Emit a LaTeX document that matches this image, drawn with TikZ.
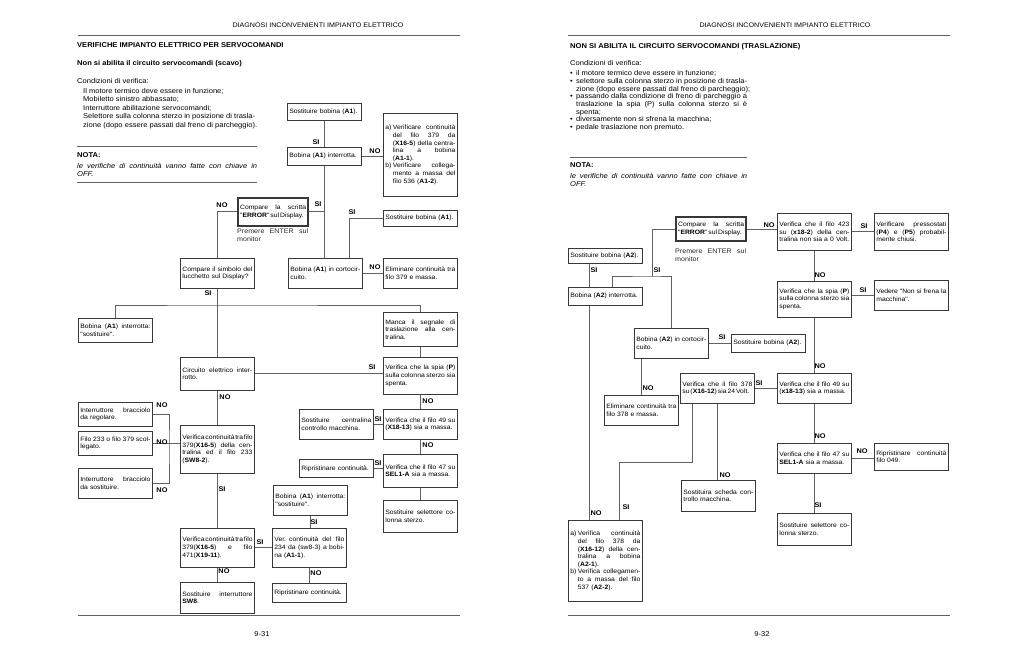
\documentclass[tikz,border=0pt]{standalone}
\usepackage{fontspec}
\setmainfont{Liberation Sans}[FakeStretch=1.08]
\newfontfamily\boxfam{Liberation Sans}[FakeStretch=1.08, WordSpace=0.5]
\definecolor{linegray}{gray}{0.38}
\definecolor{boxgray}{gray}{0.22}
\newcommand{\boxfont}{\boxfam\fontsize{6.3}{7.6}\selectfont}
\newcommand{\labfont}{\fontsize{6.8}{7}\selectfont\bfseries}
\newcommand{\txtfont}{\fontsize{7}{8.5}\selectfont}
\newcommand{\headfont}{\fontsize{7}{8}\selectfont\bfseries}
% justified line of given width, justified box lines, unbroken last line
\newcommand{\jbox}[2]{\makebox[#1][s]{\spaceskip=0.12em plus 1fil\relax #2}}
\newcommand{\jl}[1]{\jbox{\hsize}{#1}\\}
\newcommand{\ji}[1]{\hspace*{7.5pt}\jbox{\dimexpr\hsize-7.5pt\relax}{#1}\\}
\newcommand{\el}[1]{\makebox[\hsize][l]{\spaceskip=0.15em\relax #1}}
\tikzset{
	box/.style={draw=boxgray, line width=0.7pt, anchor=north west, inner xsep=2pt, inner ysep=1.5pt, text width=70pt, align=left, font=\boxfont},
	errbox/.style={box, line width=2.2pt, text width=66pt},
	lab/.style={font=\labfont, inner sep=0pt},
	link/.style={draw=linegray, line width=0.9pt},
	txt/.style={anchor=north west, inner sep=0pt, align=left, font=\txtfont},
	rule/.style={draw=linegray, line width=0.8pt},
}
\begin{document}
\begin{tikzpicture}[x=1pt, y=-1pt]
	% Page frame
	\useasboundingbox (0,0) rectangle (1024,661);
	\fill[white] (0,0) rectangle (1024,661);
	
	% Left page: heading and notes
	\node[inner sep=0pt, font=\fontsize{6.6}{8}\selectfont] (headL) at (318,25) {DIAGNOSI INCONVENIENTI IMPIANTO ELETTRICO};
	\draw[rule] (78,35) -- (460,35);
	\node[anchor=west, inner sep=0pt, font=\headfont] (titleL) at (77,45) {VERIFICHE IMPIANTO ELETTRICO PER SERVOCOMANDI};
	\node[anchor=west, inner sep=0pt, font=\headfont] (subL) at (77,64) {Non si abilita il circuito servocomandi (scavo)};
	\node[txt] (condL) at (77,78) {Condizioni di verifica:\\[1.5pt]
		\hspace*{6pt}Il motore termico deve essere in funzione;\\
		\hspace*{6pt}Mobiletto sinistro abbassato;\\
		\hspace*{6pt}Interruttore abilitazione servocomandi;\\
		\hspace*{6pt}\jbox{172pt}{Selettore sulla colonna sterzo in posizione di trasla-}\\
		\hspace*{6pt}zione (dopo essere passati dal freno di parcheggio).};
	\draw[rule] (77,146) -- (257,146);
	\node[anchor=west, inner sep=0pt, font=\headfont] (notaL) at (77,155) {NOTA:};
	\node[txt] (noteL) at (77,163) {\itshape\jbox{180pt}{le verifiche di continuità vanno fatte con chiave in}\\\itshape OFF.};
	\draw[rule] (77,182) -- (257,182);
	
	% Left page: boxes
	\node[box, minimum height=17pt] (sost1) at (287,103) {Sostituire bobina (\textbf{A1}).};
	\node[box, minimum height=18pt] (bint1) at (287,147) {Bobina (\textbf{A1}) interrotta.};
	\node[box, minimum height=83pt] (verA1) at (383,113) {\jl{a)\hspace{1.5pt}Verificare continuità}
		\ji{del filo 379 da}
		\ji{(\textbf{X16-5}) della centra-}
		\ji{lina a bobina}
		\hspace*{7.5pt}(\textbf{A1-1}).\\
		\jl{b)\hspace{1.5pt}Verificare collega-}
		\ji{mento a massa del}
		\hspace*{7.5pt}filo 536 (\textbf{A1-2}).};
	\node[errbox, minimum height=28pt] (err1) at (237,196.5) {\jl{Compare la scritta}\el{"\textbf{ERROR}" sul Display.}};
	\node[txt, font=\fontsize{6.6}{7.5}\selectfont, text=black!85] (enter1) at (237,229) {\jbox{71pt}{Premere ENTER sul}\\monitor};
	\node[box, minimum height=16pt] (sost2) at (383,210) {Sostituire bobina (\textbf{A1}).};
	\node[box, minimum height=30pt] (bcort1) at (288,258) {\jl{Bobina (\textbf{A1}) in cortocir-}cuito.};
	\node[box, minimum height=30pt] (elim1) at (383,258) {\jl{Eliminare continuità tra}filo 379 e massa.};
	\node[box, minimum height=30pt] (lucch) at (180,258) {\jl{Compare il simbolo del}lucchetto sul Display?};
	\node[box, minimum height=24pt] (bint2) at (78,318) {\jl{Bobina (\textbf{A1}) interrotta:}"sostituire".};
	\node[box, minimum height=34pt] (manca) at (383,312) {\jl{Manca il segnale di}\jl{traslazione alla cen-}tralina.};
	\node[box, minimum height=33pt] (circ) at (180,357) {\jl{Circuito elettrico inter-}rotto.};
	\node[box, minimum height=37pt] (spia) at (383,357) {\jl{Verifica che la spia (\textbf{P})}\jl{sulla colonna sterzo sia}spenta.};
	\node[box, minimum height=24pt] (breg) at (78,402) {\jl{Interruttore bracciolo}da regolare.};
	\node[box, minimum height=24pt] (filo) at (78,431) {\jl{Filo 233 o filo 379 scol-}legato.};
	\node[box, minimum height=30pt] (bsost) at (78,468) {\jl{Interruttore bracciolo}da sostituire.};
	\node[box, minimum height=48pt] (vcont) at (180,425) {\jl{Verifica continuità tra filo}\jl{379(\textbf{X16-5}) della cen-}\jl{tralina ed il filo 233}(\textbf{SW8-2}).};
	\node[box, minimum height=30pt] (sostc) at (299,409) {\jl{Sostituire centralina}controllo macchina.};
	\node[box, minimum height=30pt] (f49) at (383,409) {\jl{Verifica che il filo 49 su}(\textbf{X18-13}) sia a massa.};
	\node[box, minimum height=18pt] (ripr1) at (299,459) {Ripristinare continuità.};
	\node[box, minimum height=33pt] (f47) at (383,454) {\jl{Verifica che il filo 47 su}\textbf{SEL1-A} sia a massa.};
	\node[box, minimum height=32pt] (sostsel) at (383,500) {\jl{Sostituire selettore co-}lonna sterzo.};
	\node[box, minimum height=30pt] (bint3) at (273,485) {\jl{Bobina (\textbf{A1}) interrotta:}"sostituire".};
	\node[box, minimum height=39pt] (vcont2) at (180,528) {\jl{Verifica continuità tra filo}\jl{379(\textbf{X16-5}) e filo}471(\textbf{X19-11}).};
	\node[box, minimum height=39pt] (vcont3) at (272,528) {\jl{Ver. continuità del filo}\jl{234 da (sw8-3) a bobi-}na (\textbf{A1-1}).};
	\node[box, minimum height=31pt] (sostsw8) at (180,582) {\jl{Sostituire interruttore}\textbf{SW8}.};
	\node[box, minimum height=19pt] (ripr2) at (272,583) {Ripristinare continuità.};
	
	% Left page: connectors
	\draw[link] (sost1) -- (bint1);
	\draw[link] (bint1.east) -- (bint1.east -| verA1.west);
	\draw[link] (bint1.south) -- (bint1.south |- bcort1.north);
	\draw[link] (err1.east) -- (err1.east -| bint1.south);
	\draw[link] (sost2.west) -| ([xshift=24pt]bcort1.north);
	\draw[link] (bcort1.east) -- (bcort1.east -| elim1.west);
	\draw[link] (err1.west) -| (lucch.north);
	\coordinate (busL) at (217,305);
	\draw[link] (lucch) -- (circ);
	\draw[link] (bint2.north) |- (busL) -| (manca.north);
	\draw[link] (manca) -- (spia);
	\draw[link] (circ.east) -- (circ.east -| spia.west);
	\draw[link] (circ) -- (vcont);
	\coordinate (brk) at (169,445);
	\draw[link] (breg.east) -| (brk) |- (bsost.east);
	\draw[link] (filo.east) -- (filo.east -| vcont.west);
	\draw[link] (vcont) -- (vcont2);
	\draw[link] (vcont2) -- (vcont3);
	\draw[link] (bint3.south) -- (bint3.south |- vcont3.north);
	\draw[link] (vcont2) -- (sostsw8);
	\draw[link] (vcont3.south) -- (vcont3.south |- ripr2.north);
	\draw[link] (spia) -- (f49);
	\draw[link] (f49) -- (sostc);
	\draw[link] (f49) -- (f47);
	\draw[link] (ripr1.east) -- (ripr1.east -| f47.west);
	\draw[link] (f47) -- (sostsel);
	
	% Left page: labels
	\node[lab] (l1) at (316,142) {SI};
	\node[lab] (l2) at (375,151) {NO};
	\node[lab] (l3) at (318,204) {SI};
	\node[lab] (l4) at (352,212) {SI};
	\node[lab] (l5) at (375,267) {NO};
	\node[lab] (l6) at (222,205) {NO};
	\node[lab] (l7) at (208,293) {SI};
	\node[lab] (l8) at (372,367) {SI};
	\node[lab] (l9) at (225,397) {NO};
	\node[lab] (l10) at (428,401) {NO};
	\node[lab] (l11) at (378,419) {SI};
	\node[lab] (l12) at (428,445) {NO};
	\node[lab] (l13) at (378,463) {SI};
	\node[lab] (l14) at (162,405) {NO};
	\node[lab] (l15) at (162,442) {NO};
	\node[lab] (l16) at (162,490) {NO};
	\node[lab] (l17) at (222,489) {SI};
	\node[lab] (l18) at (260,542) {SI};
	\node[lab] (l19) at (314,522) {SI};
	\node[lab] (l20) at (224,571) {NO};
	\node[lab] (l21) at (316,573) {NO};
	
	% Left page: footer
	\draw[rule] (78,615) -- (460,615);
	\node[inner sep=0pt, font=\fontsize{7}{8}\selectfont] (pageL) at (262,634) {9-31};
	
	% Right page: heading and notes
	\node[inner sep=0pt, font=\fontsize{6.6}{8}\selectfont] (headR) at (785,25) {DIAGNOSI INCONVENIENTI IMPIANTO ELETTRICO};
	\draw[rule] (568,35) -- (950,35);
	\node[anchor=west, inner sep=0pt, font=\headfont] (titleR) at (570,47) {NON SI ABILITA IL CIRCUITO SERVOCOMANDI (TRASLAZIONE)};
	\node[txt, font=\fontsize{7}{7.7}\selectfont] (condR) at (570,60.5) {Condizioni di verifica:\\[2.3pt]
		\makebox[6pt][l]{\textbullet}il motore termico deve essere in funzione;\\
		\makebox[6pt][l]{\textbullet}\jbox{171pt}{selettore sulla colonna sterzo in posizione di trasla-}\\
		\hspace*{6pt}zione (dopo essere passati dal freno di parcheggio);\\
		\makebox[6pt][l]{\textbullet}\jbox{171pt}{passando dalla condizione di freno di parcheggio a}\\
		\hspace*{6pt}\jbox{171pt}{traslazione la spia (P) sulla colonna sterzo si è}\\
		\hspace*{6pt}spenta;\\
		\makebox[6pt][l]{\textbullet}diversamente non si sfrena la macchina;\\
		\makebox[6pt][l]{\textbullet}pedale traslazione non premuto.};
	\draw[rule] (570,157) -- (747,157);
	\node[anchor=west, inner sep=0pt, font=\headfont] (notaR) at (570,165) {NOTA:};
	\node[txt, font=\fontsize{7}{7.7}\selectfont] (noteR) at (570,173) {\itshape\jbox{177pt}{le verifiche di continuità vanno fatte con chiave in}\\\itshape OFF.};
	
	% Right page: boxes
	\node[errbox, minimum height=24pt] (errR) at (675,216) {\jl{Compare la scritta}\el{"\textbf{ERROR}" sul Display.}};
	\node[txt, font=\fontsize{6.6}{7.5}\selectfont, text=black!85] (enterR) at (675,249) {\jbox{71pt}{Premere ENTER sul}\\monitor};
	\node[box, minimum height=37pt] (f423) at (777,213) {\jl{Verifica che il filo 423}\jl{su (\textbf{x18-2}) della cen-}tralina non sia a 0 Volt.};
	\node[box, minimum height=37pt] (press) at (874,213) {\jl{Verificare pressostati}\jl{(\textbf{P4}) e (\textbf{P5}) probabil-}mente chiusi.};
	\node[box, minimum height=36pt] (spiaR) at (777,281) {\jl{Verifica che la spia (\textbf{P})}\jl{sulla colonna sterzo sia}spenta.};
	\node[box, minimum height=30pt] (vedere) at (874,280) {\jl{Vedere "Non si frena la}macchina".};
	\node[box, minimum height=15pt] (sostR) at (568,248) {Sostituire bobina (\textbf{A2}).};
	\node[box, minimum height=18pt] (bintR) at (568,287) {Bobina (\textbf{A2}) interrotta.};
	\node[box, minimum height=30pt] (bcortR) at (634,328) {\jl{Bobina (\textbf{A2}) in cortocir-}cuito.};
	\node[box, minimum height=18pt] (sostR2) at (731,334) {Sostituire bobina (\textbf{A2}).};
	\node[box, minimum height=30pt] (elimR) at (604,395) {\jl{Eliminare continuità tra}filo 378 e massa.};
	\node[box, minimum height=30pt] (f378) at (680,373) {\jl{Verifica che il filo 378}\el{su (\textbf{X16-12}) sia 24 Volt.}};
	\node[box, minimum height=30pt] (f49R) at (777,373) {\jl{Verifica che il filo 49 su}(\textbf{x18-13}) sia a massa.};
	\node[box, minimum height=30pt] (f47R) at (777,443) {\jl{Verifica che il filo 47 su}\textbf{SEL1-A} sia a massa.};
	\node[box, minimum height=27pt] (ripR) at (874,443) {\jl{Ripristinare continuità}filo 049.};
	\node[box, minimum height=31pt] (schR) at (681,480) {\jl{Sostituira scheda con-}trollo macchina.};
	\node[box, minimum height=32pt] (sostselR) at (777,513) {\jl{Sostituire selettore co-}lonna sterzo.};
	\node[box, minimum height=81pt] (verR) at (568,520) {\jl{a)\hspace{1.5pt}Verifica continuità}
		\ji{del filo 378 da}
		\ji{(\textbf{X16-12}) della cen-}
		\ji{tralina a bobina}
		\hspace*{7.5pt}(\textbf{A2-1}).\\
		\jl{b)\hspace{1.5pt}Verifica collegamen-}
		\ji{to a massa del filo}
		\hspace*{7.5pt}537 (\textbf{A2-2}).};
	
	% Right page: connectors
	\draw[link] (errR.east) -- (errR.east -| f423.west);
	\draw[link] (f423) -- (press);
	\draw[link] (f423) -- (spiaR);
	\draw[link] (vedere.west -| spiaR.east) -- (vedere.west);
	\draw[link] (spiaR) -- (f49R);
	\draw[link] (f49R) -- (f47R);
	\draw[link] (f47R.east) -- (f47R.east -| ripR.west);
	\draw[link] (f47R) -- (sostselR);
	\draw[link] (f378.east) -- (f378.east -| f49R.west);
	\coordinate (jR) at (652,276);
	\draw[link] (errR.west) -| (jR);
	\draw[link] ([xshift=7pt]bintR.north) |- (jR) -| (bcortR.north);
	\draw[link] ([xshift=-16pt]sostR.south) -- ([xshift=-16pt]bintR.north);
	\draw[link] ([xshift=-16pt]bintR.south) -- ([xshift=-16pt]verR.north);
	\draw[link] (bcortR.east) -- (bcortR.east -| sostR2.west);
	\draw[link] (elimR.north |- bcortR.south) -- (elimR.north);
	\coordinate (kR) at (619,462);
	\draw[link] ([xshift=-25pt]f378.south) |- (kR) -- (kR |- verR.north);
	\draw[link] (f378.south) -- (f378.south |- schR.north);
	
	% Right page: labels
	\node[lab] (r1) at (769,225) {NO};
	\node[lab] (r2) at (864,226) {SI};
	\node[lab] (r3) at (820,275) {NO};
	\node[lab] (r4) at (863,290) {SI};
	\node[lab] (r5) at (820,366) {NO};
	\node[lab] (r6) at (759,383) {SI};
	\node[lab] (r7) at (820,436) {NO};
	\node[lab] (r8) at (862,451) {NO};
	\node[lab] (r9) at (818,505) {SI};
	\node[lab] (r10) at (657,270) {SI};
	\node[lab] (r11) at (594,270) {SI};
	\node[lab] (r12) at (722,337) {SI};
	\node[lab] (r13) at (648,388) {NO};
	\node[lab] (r14) at (725,475) {NO};
	\node[lab] (r15) at (596,513) {NO};
	\node[lab] (r16) at (626,507) {SI};
	
	% Right page: footer
	\draw[rule] (568,615) -- (950,615);
	\node[inner sep=0pt, font=\fontsize{7}{8}\selectfont] (pageR) at (762,634) {9-32};
\end{tikzpicture}
\end{document}
